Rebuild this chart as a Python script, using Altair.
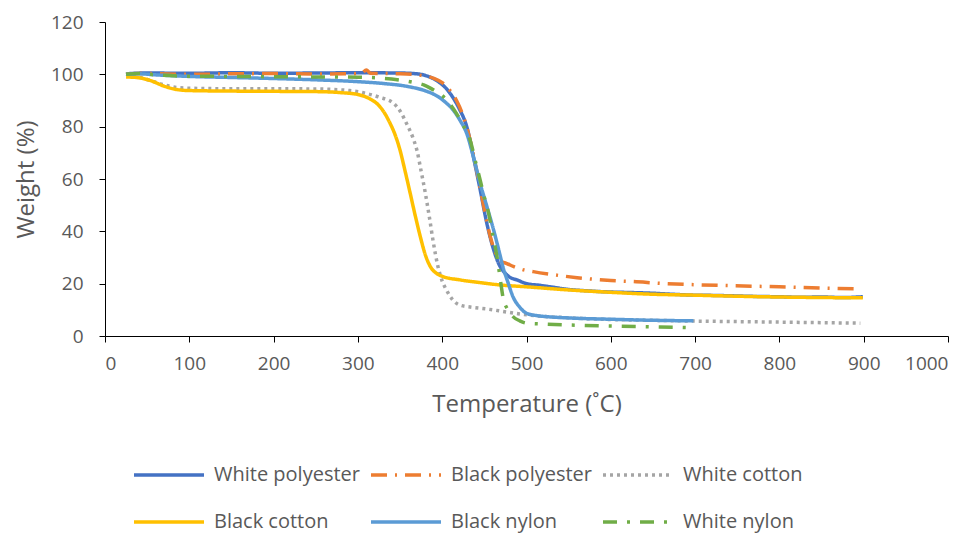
import altair as alt
import pandas as pd

names = ["White polyester", "Black polyester", "White cotton",
         "Black cotton", "Black nylon", "White nylon"]
colors = ["#4472C4", "#ED7D31", "#A5A5A5", "#FFC000", "#5B9BD5", "#70AD47"]
dashes = [[1, 0], [16, 8, 2, 8], [3, 4], [1, 0], [1, 0], [14, 10, 3, 10]]
widths = [3.5, 3.5, 3, 2.5, 6, 3.5]

wp_t = [25, 30, 50, 100, 150, 200, 250, 300, 350, 370, 385, 395, 405, 413, 420, 430, 437, 445,
        453, 461, 468, 472, 480, 489, 500, 515, 528, 550, 575, 600, 625, 646, 670, 700, 725,
        750, 775, 800, 825, 850, 875, 899]
wp_w = [100, 100.3, 100.5, 100.4, 100.6, 100.4, 100.5, 100.6, 100.5, 100.2, 99, 97.3, 94.5, 91,
        87, 79, 68.5, 56, 43, 33, 27, 25, 22.5, 21.4, 20, 19.4, 18.8, 17.8, 17.2, 16.8, 16.6,
        16.4, 16, 15.6, 15.5, 15.3, 15.1, 15.0, 14.8, 14.9, 14.7, 15.0]

bp_t = [25, 30, 50, 100, 150, 200, 250, 300, 305, 310, 315, 350, 375, 390, 400, 410, 417, 425,
        433, 441, 449, 457, 465, 470, 476, 485, 495, 508, 530, 560, 600, 627, 660, 700, 745,
        800, 850, 896]
bp_w = [100, 100.2, 100.3, 100, 100.2, 100.3, 100.1, 100.3, 100.5, 101.7, 100.4, 100.2, 99.6,
        98.5, 96.8, 93.5, 90, 84, 75, 63, 50, 38, 30.5, 28.5, 27.8, 26.5, 25.4, 24.6, 23.5,
        22.3, 21.2, 20.8, 20.1, 19.6, 19.2, 18.8, 18.3, 18]

wc_t = [25, 40, 55, 70, 85, 100, 150, 200, 250, 290, 310, 325, 342, 350, 358, 365, 370, 375,
        380, 385, 389, 395, 400, 405, 412, 421, 435, 453, 470, 490, 520, 560, 600, 650, 700,
        750, 800, 850, 896]
wc_w = [100, 99, 97.5, 96, 95, 94.7, 94.5, 94.5, 94.4, 93.8, 92.7, 91.3, 89, 86, 81, 76, 71, 63,
        54.6, 45, 36.7, 26.5, 21, 17.6, 14, 11.8, 11, 10.3, 9.5, 8.5, 7.5, 6.8, 6.3, 6, 5.7,
        5.5, 5.3, 5.1, 4.9]

bc_t = [25, 40, 55, 70, 85, 100, 150, 200, 250, 280, 300, 315, 322, 330, 338, 344, 350, 356,
        362, 368, 374, 380, 386, 393, 401, 420, 445, 469, 500, 550, 600, 646, 700, 750, 800,
        850, 899]
bc_w = [99, 98.7, 97.5, 95.5, 94.2, 93.8, 93.6, 93.5, 93.4, 93, 92.3, 90.5, 89, 86, 81.4, 77,
        71, 63, 54.6, 46, 38, 31, 26.5, 24, 22.7, 21.5, 20.4, 19.5, 18.8, 17.6, 16.7, 16, 15.6,
        15.2, 14.9, 14.7, 14.6]

bn_t = [25, 40, 60, 100, 150, 200, 250, 300, 330, 360, 380, 395, 405, 413, 421, 429, 437, 445,
        453, 461, 467, 472, 478, 484, 492, 500, 512, 524, 550, 600, 650, 698]
bn_w = [100, 100.2, 99.8, 99.2, 98.8, 98.4, 97.9, 97.2, 96.5, 95.3, 93.7, 91.5, 89, 86.4, 82.5,
        77.5, 68.5, 58.3, 49.5, 40.5, 33, 26.5, 20.5, 15, 11, 8.7, 7.8, 7.4, 6.9, 6.4, 6.0, 5.8]

wn_t = [25, 40, 60, 100, 150, 200, 250, 300, 340, 365, 378, 390, 397, 407, 417, 425, 433, 440,
        445, 450, 455, 460, 465, 469, 472, 478, 484, 492, 500, 516, 550, 600, 650, 694]
wn_w = [100, 100.3, 99.8, 99.3, 99.2, 99.1, 99, 98.9, 98.2, 97, 96, 94, 92.7, 89.5, 85, 80.5,
        75, 66, 59.6, 53, 47, 38.5, 30.3, 21.5, 15, 10, 7.4, 5.8, 4.9, 4.6, 4.2, 3.8, 3.5, 3.2]

all_t = [wp_t, bp_t, wc_t, bc_t, bn_t, wn_t]
all_w = [wp_w, bp_w, wc_w, bc_w, bn_w, wn_w]

rows = []
for name, ts, ws in zip(names, all_t, all_w):
    for t, w in zip(ts, ws):
        rows.append({"series": name, "T": t, "W": w})
df = pd.DataFrame(rows)

FONT = "Open Sans"
TXT = "#595959"

leg = alt.Legend(
    title=None, orient="none", legendX=27, legendY=416, columns=3, direction="horizontal",
    symbolType="stroke", symbolSize=4900, labelFontSize=20, labelColor=TXT,
    labelFont=FONT, labelOffset=8, columnPadding=4, rowPadding=-29,
)

chart = alt.Chart(df).mark_line(interpolate="monotone").encode(
    x=alt.X("T:Q", scale=alt.Scale(domain=[0, 1000], nice=False),
            axis=alt.Axis(values=list(range(0, 1001, 100)), format="d",
                          title="Temperature (˚C)")),
    y=alt.Y("W:Q", scale=alt.Scale(domain=[0, 120], nice=False),
            axis=alt.Axis(values=list(range(0, 121, 20)), format="d", title="Weight (%)")),
    color=alt.Color("series:N", scale=alt.Scale(domain=names, range=colors), legend=leg),
    strokeDash=alt.StrokeDash("series:N", scale=alt.Scale(domain=names, range=dashes), legend=leg),
    strokeWidth=alt.StrokeWidth("series:N", scale=alt.Scale(domain=names, range=widths), legend=leg),
).properties(
    width=843, height=314,
    autosize=alt.AutoSizeParams(type="none"),
    padding={"left": 105, "top": 22, "right": 25, "bottom": 197},
).configure_view(stroke=None).configure_axis(
    grid=False, domainColor="black", tickColor="black", domainWidth=1, tickWidth=1,
    tickSize=6, labelColor=TXT, titleColor=TXT, labelFont=FONT, titleFont=FONT,
    labelFontSize=19, titleFontSize=24, titleFontWeight="normal",
).configure_axisX(labelPadding=12, titlePadding=19).configure_axisY(
    labelPadding=16, titlePadding=12)

chart.save("out.html", embed_options={"renderer": "svg", "actions": False})
